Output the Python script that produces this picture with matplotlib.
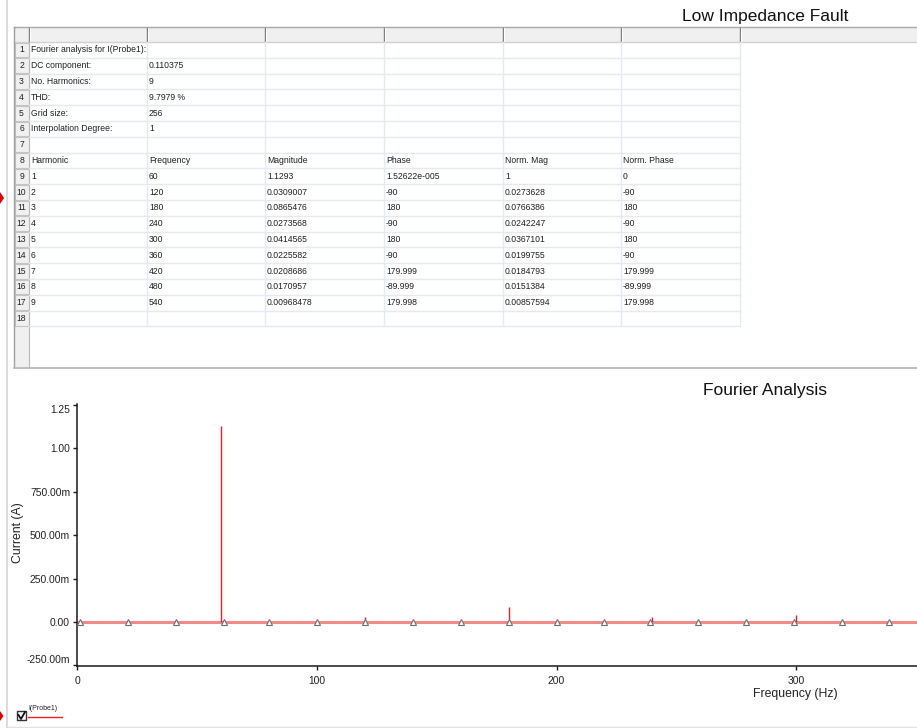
import matplotlib
matplotlib.use('Agg')
import matplotlib.pyplot as plt
from matplotlib.patches import Rectangle, Polygon

W, H = 917, 728

# summary lines of the Fourier analysis
info_labels = ['Fourier analysis for I(Probe1):', 'DC component:', 'No. Harmonics:',
               'THD:', 'Grid size:', 'Interpolation Degree:']
info_values = ['', '0.110375', '9', '9.7979 %', '256', '1']

# harmonic table
col_headers = ['Harmonic', 'Frequency', 'Magnitude', 'Phase', 'Norm. Mag', 'Norm. Phase']
harmonic = [1, 2, 3, 4, 5, 6, 7, 8, 9]
frequency = [60, 120, 180, 240, 300, 360, 420, 480, 540]
magnitude = [1.1293, 0.0309007, 0.0865476, 0.0273568, 0.0414565,
             0.0225582, 0.0208686, 0.0170957, 0.00968478]
phase = ['1.52622e-005', '-90', '180', '-90', '180', '-90', '179.999', '-89.999', '179.998']
norm_mag = [1, 0.0273628, 0.0766386, 0.0242247, 0.0367101,
            0.0199755, 0.0184793, 0.0151384, 0.00857594]
norm_phase = ['0', '-90', '180', '-90', '180', '-90', '179.999', '-89.999', '179.998']

# trace markers drawn by the grapher along the spectrum
marker_freq = [1, 21, 41, 61, 80, 100, 120, 140, 160, 180, 200, 220, 239, 259, 279, 299, 319, 339]

y_ticks = [-0.25, 0, 0.25, 0.5, 0.75, 1.0, 1.25]
y_tick_labels = ['-250.00m', '0.00', '250.00m', '500.00m', '750.00m', '1.00', '1.25']
x_ticks = [0, 100, 200, 300]

FONT = 'Liberation Sans'
plt.rcParams['font.family'] = [FONT, 'DejaVu Sans']

fig = plt.figure(figsize=(W / 100, H / 100), dpi=100)
fig.patch.set_facecolor('white')

# background canvas in pixel units
bg = fig.add_axes([0, 0, 1, 1])
bg.set_xlim(0, W)
bg.set_ylim(H, 0)
bg.axis('off')

# window border on the left
bg.plot([7, 7], [0, H], color='#d4d4d4', lw=1.2)

# ---- spreadsheet ----
col_x = [29, 147, 265, 384, 503, 621, 740]
row_top = 42
row_h = 15.8
n_rows = 18
table_bottom = 367

rows = []
for i in range(len(info_labels)):
    rows.append([info_labels[i], info_values[i], '', '', '', ''])
rows.append(['', '', '', '', '', ''])
rows.append(col_headers)
for i in range(len(harmonic)):
    rows.append([str(harmonic[i]), str(frequency[i]), '%g' % magnitude[i], phase[i],
                 '%g' % norm_mag[i], norm_phase[i]])
rows.append(['', '', '', '', '', ''])

# column header strip
bg.add_patch(Rectangle((14, 27), W - 14, 15, facecolor='#f0f0f0', edgecolor='none'))
bg.plot([14, W], [27, 27], color='#a8a8a8', lw=1)
bg.plot([14, W], [41.5, 41.5], color='#d0d0d0', lw=1)
for cx in [29] + col_x[1:]:
    bg.plot([cx, cx], [28, 41], color='#7a7a7a', lw=1)
    bg.plot([cx + 1, cx + 1], [28, 41], color='#ffffff', lw=0.8)

# row header column
bg.add_patch(Rectangle((14, 42), 15, table_bottom - 42, facecolor='#f0f0f0', edgecolor='none'))
bg.plot([14, 14], [27, table_bottom], color='#a0a0a0', lw=1)
bg.plot([29, 29], [42, table_bottom], color='#b8b8b8', lw=0.8)

for r in range(n_rows):
    y0 = row_top + r * row_h
    yc = y0 + row_h / 2
    bg.add_patch(Rectangle((14.5, y0 + 0.5), 14, row_h - 1, facecolor='#f0f0f0',
                           edgecolor='#c4c4c4', lw=0.8))
    bg.text(21.5, yc, str(r + 1), fontsize=6.2, ha='center', va='center', color='#202020')
    # light cell grid
    bg.plot([col_x[0], col_x[-1]], [y0 + row_h, y0 + row_h], color='#e4eaf4', lw=1)
    for cx in col_x[1:]:
        bg.plot([cx, cx], [y0, y0 + row_h], color='#e4eaf4', lw=1)
    for c, txt in enumerate(rows[r]):
        if txt:
            bg.text(col_x[c] + 2, yc, txt, fontsize=6.2, ha='left', va='center', color='#202020')

bg.plot([14, W], [table_bottom + 0.5, table_bottom + 0.5], color='#b4b4b4', lw=1.2)

# red row pointer
bg.add_patch(Polygon([[0, 192], [4, 198], [0, 204]], closed=True, facecolor='#e00000', edgecolor='none'))

bg.text(765, 16, 'Low Impedance Fault', fontsize=12.5, ha='center', va='center', color='#111111')
bg.text(765, 391, 'Fourier Analysis', fontsize=12.5, ha='center', va='center', color='#111111')

# ---- spectrum plot ----
ax_l, ax_r, ax_t, ax_b = 77, 917, 404, 666
ax = fig.add_axes([ax_l / W, (H - ax_b) / H, (ax_r - ax_l) / W, (ax_b - ax_t) / H])
ax.patch.set_alpha(0)
ax.set_xlim(-0.2, 350.5)
ax.set_ylim(-0.2535, 1.256)
for s in ['top', 'right']:
    ax.spines[s].set_visible(False)
for s in ['left', 'bottom']:
    ax.spines[s].set_color('#1a1a1a')
    ax.spines[s].set_linewidth(1.1)

base_x = [0] + frequency
ax.plot(base_x, [0] * len(base_x), color='#f28a8a', lw=2.2, solid_capstyle='butt', zorder=2)
ax.vlines(frequency, 0, magnitude, color='#e3232b', lw=1.0, zorder=3)
ax.plot(marker_freq, [0] * len(marker_freq), linestyle='none', marker='^', ms=4.5,
        mfc='white', mec='#6e6e6e', mew=0.8, zorder=4)

ax.set_yticks(y_ticks)
ax.set_yticklabels(y_tick_labels)
ax.set_xticks(x_ticks)
ax.set_xticklabels([str(v) for v in x_ticks])
ax.tick_params(axis='both', length=3, width=1, color='#1a1a1a', labelsize=7.4,
               labelcolor='#222222', pad=2)
ax.tick_params(axis='x', pad=4)
tl = ax.get_yticklabels()
tl[0].set_va('bottom')
tl[-1].set_va('top')

fig.text(18 / W, 1 - 533 / H, 'Current (A)', rotation=90, fontsize=8.8, ha='center',
         va='center', color='#222222')
fig.text(795 / W, 1 - 694 / H, 'Frequency (Hz)', fontsize=8.8, ha='center', va='center',
         color='#222222')

# ---- legend strip ----
bg.add_patch(Polygon([[0, 711], [3.5, 716], [0, 721]], closed=True, facecolor='#e00000', edgecolor='none'))
bg.add_patch(Rectangle((17, 711), 9, 9, facecolor='white', edgecolor='#333333', lw=1))
bg.plot([18.5, 21, 25], [715, 719, 712], color='#111111', lw=1.3)
bg.text(28, 709, 'I(Probe1)', fontsize=5, ha='left', va='center', color='#222222')
bg.plot([28, 62], [717, 717], color='#ee2020', lw=1)
bg.plot([7, W], [727, 727], color='#e0e0e0', lw=1)

fig.savefig('out.png', dpi=100)
